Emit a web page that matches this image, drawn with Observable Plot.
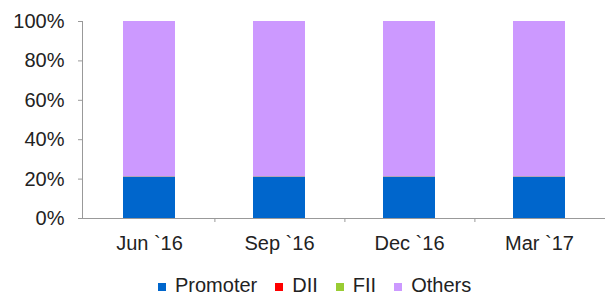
<!DOCTYPE html>
<html>
<head>
<meta charset="utf-8">
<script src="https://cdn.jsdelivr.net/npm/d3@7"></script>
<script src="https://cdn.jsdelivr.net/npm/@observablehq/plot@0.6"></script>
<style>
  html, body { margin: 0; padding: 0; background: #fff; }
  body { width: 605px; height: 301px; overflow: hidden; font-family: "Liberation Sans", Arial, sans-serif; }
  #legend { display: flex; align-items: center; height: 31px; padding-left: 158px; font-size: 20px; color: #222; }
  #legend .item { display: flex; align-items: center; margin-right: 18px; }
  #legend .sw { width: 8px; height: 8px; margin-right: 9px; margin-top: 3px; }
</style>
</head>
<body>
<div id="chart"></div>
<div id="legend"></div>
<script>
const quarters = ["Jun `16", "Sep `16", "Dec `16", "Mar `17"];
const series = ["Promoter", "DII", "FII", "Others"];
const colors = ["#0066CC", "#FF0000", "#99CC33", "#CC99FF"];
const promoter = [21.0, 21.0, 21.0, 21.0];
const dii = [0.1, 0.1, 0.1, 0.1];
const fii = [0.1, 0.1, 0.1, 0.1];
const others = [78.8, 78.8, 78.8, 78.8];
const yTicks = [0, 20, 40, 60, 80, 100];

const valuesBySeries = [promoter, dii, fii, others];
const data = [];
series.forEach((s, si) => quarters.forEach((q, qi) => data.push({quarter: q, series: s, value: valuesBySeries[si][qi]})));

const chart = Plot.plot({
  width: 605,
  height: 270,
  marginLeft: 82,
  marginRight: 0,
  marginTop: 21,
  marginBottom: 52,
  style: {fontFamily: "'Liberation Sans', Arial, sans-serif", fontSize: "20px", color: "#222", background: "#fff"},
  x: {domain: quarters, paddingInner: 0.6, paddingOuter: 0.3, label: null},
  y: {domain: [0, 100], label: null},
  color: {domain: series, range: colors},
  marks: [
    Plot.barY(data, {x: "quarter", y: "value", fill: "series", order: series}),
    Plot.ruleY([0], {stroke: "#999", strokeWidth: 1}),
    Plot.frame({anchor: "left", stroke: "#999", strokeWidth: 1}),
    Plot.ruleX(quarters.slice(0, -1), {x: d => d, y1: 0, y2: 0, dx: 65.4, insetBottom: -4, stroke: "#999"}),
    Plot.axisY({ticks: yTicks, tickFormat: d => d + "%", tickSize: 4, tickPadding: 14, stroke: "#999", fill: "#222", fontSize: 20}),
    Plot.axisX({tickSize: 0, tickPadding: 17, fill: "#222", fontSize: 20})
  ]
});
document.getElementById("chart").appendChild(chart);

const legend = document.getElementById("legend");
series.forEach((s, i) => {
  const item = document.createElement("div");
  item.className = "item";
  const sw = document.createElement("span");
  sw.className = "sw";
  sw.style.background = colors[i];
  const t = document.createElement("span");
  t.textContent = s;
  item.appendChild(sw);
  item.appendChild(t);
  legend.appendChild(item);
});
</script>
</body>
</html>
